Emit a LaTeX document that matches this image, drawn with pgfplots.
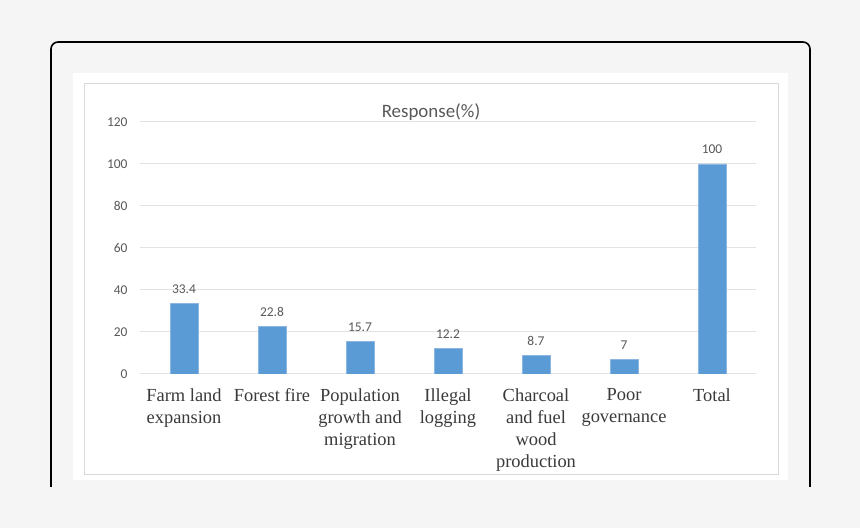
\documentclass[border=0pt]{standalone}
\usepackage{pgfplots}
\pgfplotsset{compat=1.18}
\usepackage{fontspec}
\setmainfont{Liberation Serif}
\newfontfamily\carlito{Carlito}
\definecolor{bgc}{HTML}{F5F5F5}
\definecolor{barc}{HTML}{5B9BD5}
\definecolor{baredge}{HTML}{8DB6E3}
\definecolor{gridc}{HTML}{E3E3E3}
\definecolor{framec}{HTML}{D9D9D9}
\definecolor{txtg}{HTML}{595959}
\definecolor{xlab}{HTML}{3A3A3A}
\begin{document}
\begin{tikzpicture}[x=1bp,y=1bp]
\fill[bgc] (0,0) rectangle (860,528);
\draw[black, line width=1.6bp, rounded corners=7bp] (51,41) -- (51,486) -- (810,486) -- (810,41);
\fill[white] (73,48) rectangle (788,455);
\draw[framec, line width=1bp] (84,53) rectangle (778,444);
\node[anchor=base, text=txtg, font=\carlito\fontsize{19}{22}\selectfont] at (431,410) {Response(\%)};
\begin{axis}[
  at={(140bp,154bp)}, anchor=south west,
  scale only axis, width=616bp, height=252bp,
  xmin=-0.5, xmax=6.5, ymin=0, ymax=120,
  axis line style={draw=none},
  ytick={0,20,...,120},
  ymajorgrids, grid style={gridc, line width=1bp},
  major tick length=0pt,
  xtick={0,...,6},
  xticklabels={{Farm land\\expansion},{Forest fire},{Population\\growth and\\migration},{Illegal\\logging},{Charcoal\\and fuel\\wood\\production},{Poor\\governance},{Total}},
  xticklabel style={align=center, text=xlab, font=\fontsize{18.5}{22}\selectfont, yshift=-11bp},
  yticklabel style={text=txtg, font=\carlito\fontsize{13.5}{15}\selectfont, xshift=-9bp},
  /pgf/number format/assume math mode=true,
  ybar, bar width=28bp,
  nodes near coords,
  every node near coord/.append style={text=txtg, font=\carlito\fontsize{13.5}{15}\selectfont, anchor=base, yshift=10bp},
]
\addplot[fill=barc, draw=baredge, line width=0.8bp] coordinates {(0,33.4) (1,22.8) (2,15.7) (3,12.2) (4,8.7) (5,7) (6,100)};
\end{axis}
\end{tikzpicture}
\end{document}
